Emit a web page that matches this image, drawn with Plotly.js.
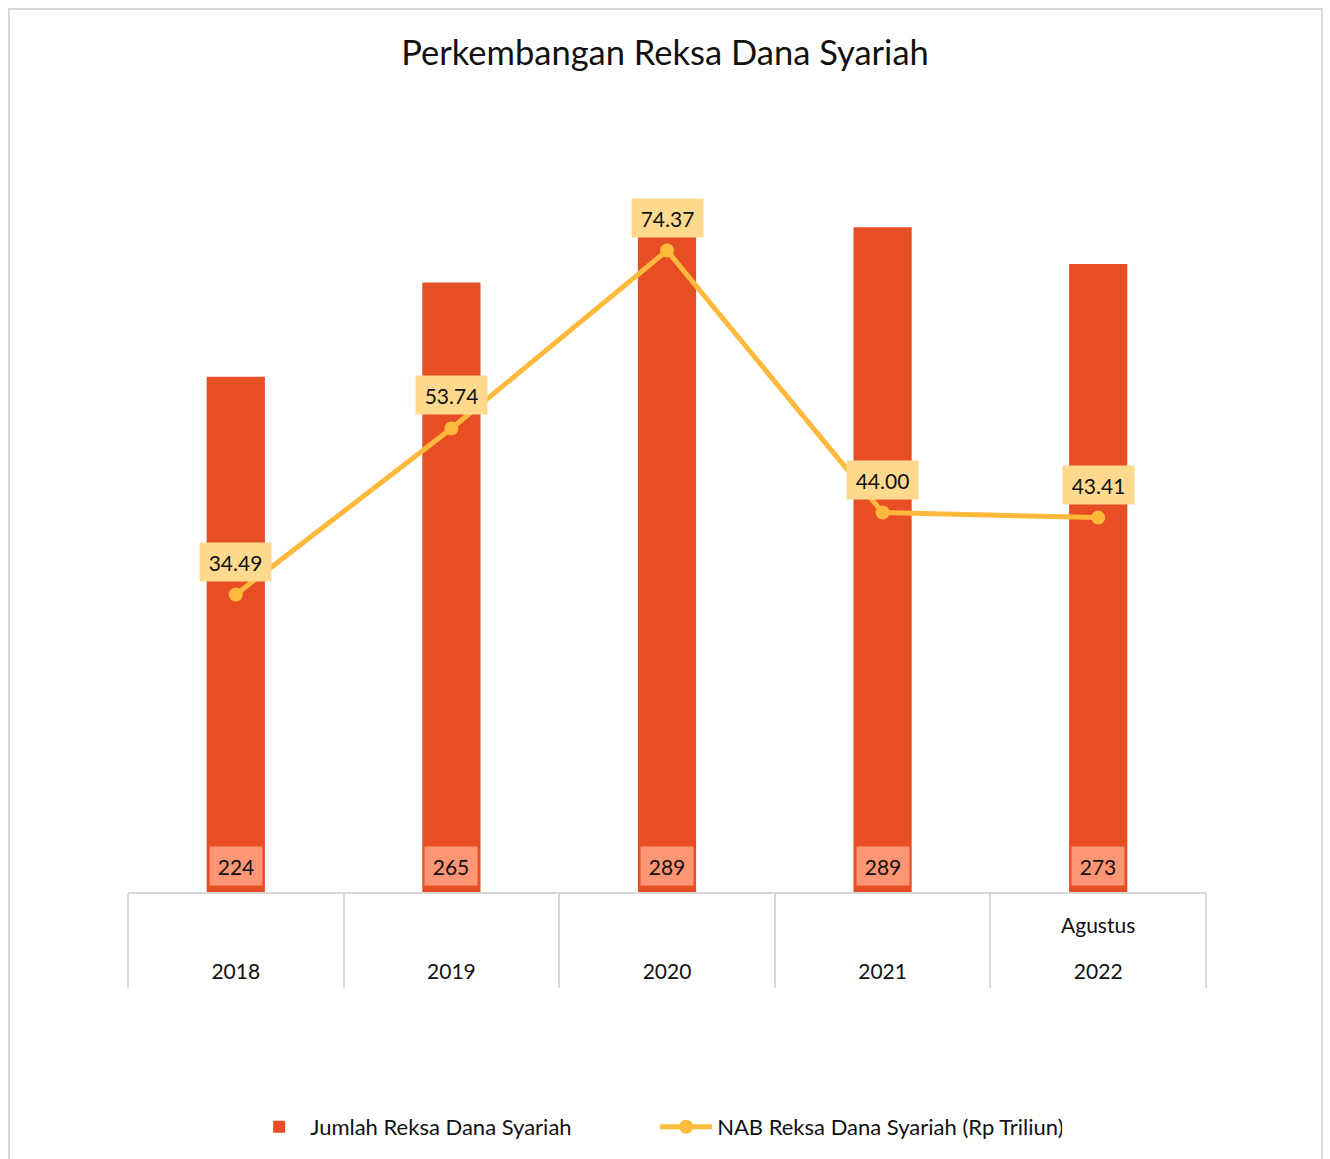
<!DOCTYPE html>
<html>
<head>
<meta charset="utf-8">
<script src="https://cdn.plot.ly/plotly-3.0.1.min.js"></script>
<style>
  html, body { margin:0; padding:0; background:#fff; overflow:hidden; }
  #chart { position:absolute; left:0; top:0; width:1330px; height:1159px; }
  #frame { position:absolute; left:8px; top:8px; width:1315px; height:1200px;
           border:2px solid #d9d9d9; pointer-events:none; box-sizing:border-box; }
</style>
</head>
<body>
<div id="chart"></div>
<div id="frame"></div>
<script>
const years = ["2018", "2019", "2020", "2021", "2022"];
const subLabels = ["", "", "", "", "Agustus"];
const jumlahRD = [224, 265, 289, 289, 273];
const nabRD = [34.49, 53.74, 74.37, 44.00, 43.41];
const titleText = "Perkembangan Reksa Dana Syariah";
const barName = "Jumlah Reksa Dana Syariah";
const lineName = "NAB Reksa Dana Syariah (Rp Triliun)";

const FONT = "Lato, 'Open Sans', sans-serif";
const TXT = "#111111";
const BAR = "#E84E23";
const BARLBL = "#FE9574";
const LINE = "#FFBA3D";
const LINELBL = "#FFD98E";

const traces = [
  {
    type: "bar", x: years, y: jumlahRD, name: barName,
    marker: { color: BAR }, width: 0.27, hoverinfo: "x+y"
  },
  {
    type: "scatter", mode: "lines+markers", x: years, y: nabRD, name: lineName,
    yaxis: "y2", line: { color: LINE, width: 5 },
    marker: { color: LINE, size: 14 }, cliponaxis: false
  }
];

const annotations = [];
years.forEach((yr, i) => {
  annotations.push({
    x: i, y: 0, xref: "x", yref: "y", text: String(jumlahRD[i]),
    showarrow: false, yanchor: "bottom", yshift: 6,
    width: 50, height: 36, borderpad: 1, bgcolor: BARLBL,
    font: { family: FONT, size: 21, color: TXT }
  });
  annotations.push({
    x: i, y: nabRD[i], xref: "x", yref: "y2", text: nabRD[i].toFixed(2),
    showarrow: false, yanchor: "middle", yshift: 33,
    width: 69, height: 36, borderpad: 1, bgcolor: LINELBL,
    font: { family: FONT, size: 21, color: TXT }
  });
  if (subLabels[i]) {
    annotations.push({
      x: i, y: 0, xref: "x", yref: "paper", text: subLabels[i],
      showarrow: false, yanchor: "middle", yshift: -32,
      font: { family: FONT, size: 21, color: TXT }
    });
  }
});

const layout = {
  width: 1330, height: 1159,
  margin: { l: 128, r: 124, t: 202, b: 266 },
  paper_bgcolor: "#ffffff", plot_bgcolor: "#ffffff",
  font: { family: FONT, color: TXT, size: 21 },
  title: {
    text: titleText, font: { family: FONT, size: 34.5, color: TXT },
    x: 0.5, xref: "container", xanchor: "center",
    y: 1 - 53 / 1159, yref: "container", yanchor: "middle"
  },
  xaxis: {
    type: "category", range: [-0.5, years.length - 0.5], autorange: false,
    tickson: "boundaries", ticks: "outside", ticklen: 94,
    tickcolor: "#d9d9d9", tickwidth: 2, showline: true, linecolor: "#d9d9d9",
    linewidth: 2, showgrid: false, zeroline: false,
    ticklabelstandoff: 60, tickangle: 0,
    tickfont: { family: FONT, size: 21, color: TXT }, fixedrange: true
  },
  yaxis: { range: [0, 300], autorange: false, visible: false, showgrid: false, zeroline: false, fixedrange: true },
  yaxis2: { range: [0, 80], autorange: false, overlaying: "y", side: "right", visible: false,
            showgrid: false, zeroline: false, fixedrange: true },
  showlegend: true,
  legend: {
    orientation: "h", x: 0.489, xanchor: "center", y: (893 - 1127) / 691, yanchor: "middle",
    font: { family: FONT, size: 22, color: TXT }, itemwidth: 52, traceorder: "normal",
    entrywidth: 340, entrywidthmode: "pixels"
  },
  annotations: annotations
};

Plotly.newPlot("chart", traces, layout, { displayModeBar: false, staticPlot: true });
</script>
</body>
</html>
